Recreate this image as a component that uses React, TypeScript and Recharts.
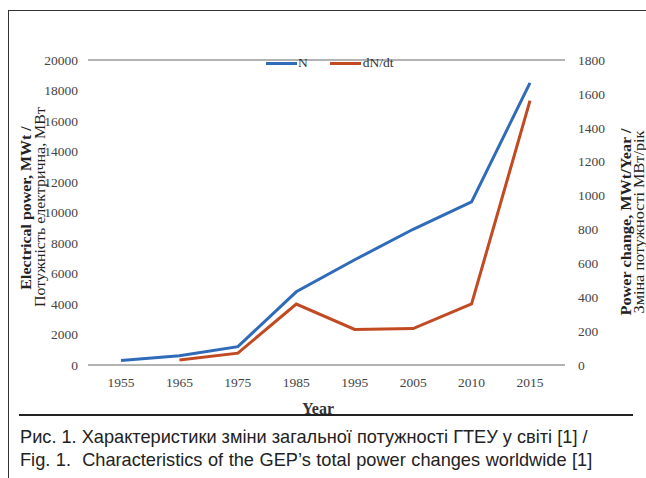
import { LineChart, Line, XAxis, YAxis, CartesianGrid, Legend } from "recharts";

const years = ["1955", "1965", "1975", "1985", "1995", "2005", "2010", "2015"];
const powerN = [300, 600, 1200, 4800, 6900, 8900, 10700, 18500];
const powerChange = [null, 30, 70, 360, 210, 215, 360, 1560];
const leftTicks = [0, 2000, 4000, 6000, 8000, 10000, 12000, 14000, 16000, 18000, 20000];
const rightTicks = [0, 200, 400, 600, 800, 1000, 1200, 1400, 1600, 1800];

const data = years.map((y, i) => ({ year: y, N: powerN[i], dN: powerChange[i] }));

const BLUE = "#2f6bb8";
const RED = "#c24a22";
const serif = "Liberation Serif, DejaVu Serif, serif";

// explicit <text> so the serif face is certain
function SerifTick(props: any) {
  const { x, y, payload, textAnchor, verticalAnchor } = props;
  const dy = verticalAnchor === "start" ? "0.71em" : "0.355em";
  return (
    <text x={x} y={y} dy={dy} textAnchor={textAnchor} fontFamily={serif} fontSize={13.5} fill="#444">
      {payload.value}
    </text>
  );
}

function LegendBox() {
  return (
    <div style={{ display: "flex", alignItems: "center", fontFamily: serif, fontSize: 13.5, color: "#333" }}>
      <span style={{ width: 31, height: 3, background: BLUE, display: "inline-block" }} />
      <span style={{ marginLeft: 1, marginRight: 22 }}>N</span>
      <span style={{ width: 31, height: 3, background: RED, display: "inline-block" }} />
      <span style={{ marginLeft: 2 }}>dN/dt</span>
    </div>
  );
}

const rot = (x: number, y: number, stretch: number): React.CSSProperties => ({
  position: "absolute",
  left: x,
  top: y,
  transform: `translate(-50%, -50%) rotate(-90deg) scaleX(${stretch})`,
  whiteSpace: "nowrap",
  fontFamily: serif,
  fontSize: 14.5,
  color: "#222",
  lineHeight: 1,
});

export default function App() {
  return (
    <div style={{ position: "absolute", left: 0, top: 0, width: 646, height: 478, background: "#fff", overflow: "hidden", fontFamily: serif }}>
      <div style={{ position: "absolute", left: 8, top: 10, width: 640, height: 480, borderLeft: "1.5px solid #333", borderTop: "1.5px solid #333" }} />
      <div style={{ position: "absolute", left: 0, top: 0 }}>
        <LineChart width={646} height={478} data={data} margin={{ top: 44, right: 21, bottom: 83, left: 28 }}>
          <CartesianGrid vertical={false} stroke="#9a9a9a" strokeWidth={1.5} />
          <XAxis dataKey="year" axisLine={false} tickLine={false} tick={<SerifTick />} tickMargin={6} height={30} padding={{ left: 33, right: 35 }} />
          <YAxis yAxisId="left" domain={[0, 20000]} ticks={leftTicks} interval={0} axisLine={false} tickLine={false} tick={<SerifTick />} width={60} tickMargin={4} />
          <YAxis yAxisId="right" orientation="right" domain={[0, 1800]} ticks={rightTicks} interval={0} axisLine={false} tickLine={false} tick={<SerifTick />} width={60} tickMargin={7} />
          <Legend verticalAlign="top" content={() => <LegendBox />} wrapperStyle={{ position: "absolute", top: 55, left: 266, width: 200 }} />
          <Line yAxisId="left" dataKey="N" stroke={BLUE} strokeWidth={3} dot={false} isAnimationActive={false} />
          <Line yAxisId="right" dataKey="dN" stroke={RED} strokeWidth={3} dot={false} isAnimationActive={false} connectNulls />
        </LineChart>
      </div>
      <div style={{ ...rot(26, 208, 1.1), fontWeight: "bold" }}>Electrical power, MWt /</div>
      <div style={rot(40, 207, 1.1)}>Потужність електрична, МВт</div>
      <div style={{ ...rot(626, 222, 1.12), fontWeight: "bold" }}>Power change, MWt/Year /</div>
      <div style={rot(639, 222, 1.12)}>Зміна потужності МВт/рік</div>
      <div style={{ position: "absolute", left: 318, top: 401, transform: "translateX(-50%)", fontFamily: serif, fontWeight: "bold", fontSize: 16, lineHeight: 1, color: "#333" }}>Year</div>
      <div style={{ position: "absolute", left: 19, top: 414, width: 614, height: 1.5, background: "#222" }} />
      <div style={{ position: "absolute", left: 20, top: 426, fontFamily: "'Liberation Sans', Arial, sans-serif", fontSize: 18.2, color: "#222", lineHeight: "23px", whiteSpace: "nowrap" }}>
        <div>Рис. 1. Характеристики зміни загальної потужності ГТЕУ у світі [1] /</div>
        <div style={{ wordSpacing: 0.5 }}>Fig. 1.&nbsp; Characteristics of the GEP’s total power changes worldwide [1]</div>
      </div>
    </div>
  );
}
